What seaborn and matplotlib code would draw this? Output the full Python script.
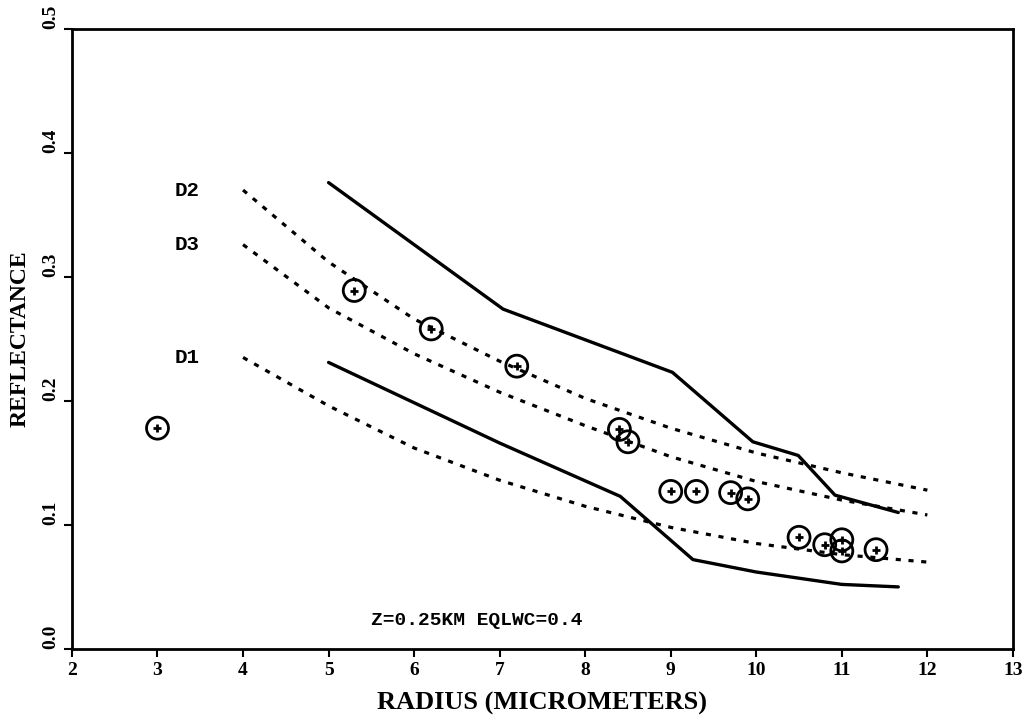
import numpy as np
import pandas as pd
import matplotlib
matplotlib.use("Agg")
import matplotlib.pyplot as plt
import seaborn as sns

# measured points (circle + plus)
pt_radius = [3.0, 5.3, 6.2, 7.2, 8.4, 8.5, 9.0, 9.3, 9.7, 9.9, 10.5, 10.8, 11.0, 11.0, 11.4]
pt_refl = [0.178, 0.289, 0.258, 0.228, 0.177, 0.167, 0.127, 0.127, 0.126, 0.121,
           0.090, 0.084, 0.088, 0.079, 0.080]

# solid envelope lines
upper_x = [5.0, 7.04, 9.02, 9.96, 10.49, 10.92, 11.66]
upper_y = [0.376, 0.274, 0.223, 0.167, 0.156, 0.124, 0.110]
lower_x = [5.0, 7.0, 8.41, 9.26, 10.0, 11.0, 11.66]
lower_y = [0.231, 0.166, 0.123, 0.072, 0.062, 0.052, 0.050]

# dotted model curves
curve_x = [4, 5, 6, 7, 8, 9, 10, 11, 12]
d2_y = [0.370, 0.312, 0.266, 0.232, 0.202, 0.178, 0.158, 0.142, 0.128]
d3_y = [0.326, 0.275, 0.238, 0.207, 0.180, 0.155, 0.135, 0.120, 0.108]
d1_y = [0.235, 0.196, 0.162, 0.136, 0.115, 0.098, 0.085, 0.076, 0.070]

sns.set_style("ticks")
plt.rcParams['font.family'] = ['Liberation Serif', 'DejaVu Serif']
plt.rcParams['font.weight'] = 'bold'
plt.rcParams['text.color'] = 'black'
plt.rcParams['axes.labelcolor'] = 'black'
plt.rcParams['xtick.color'] = 'black'
plt.rcParams['ytick.color'] = 'black'
plt.rcParams['axes.edgecolor'] = 'black'

fig = plt.figure(figsize=(10.25, 7.21), dpi=100)
ax = fig.add_axes([0.0702, 0.100, 0.918, 0.860])

for xs, ys in [(upper_x, upper_y), (lower_x, lower_y)]:
    sns.lineplot(x=xs, y=ys, ax=ax, color="black", lw=2.4, sort=False, estimator=None)

for ys in [d2_y, d3_y, d1_y]:
    sns.lineplot(x=curve_x, y=ys, ax=ax, color="black", lw=2.3, linestyle=(0, (1.6, 2.4)),
                 sort=False, estimator=None)

sns.scatterplot(x=pt_radius, y=pt_refl, ax=ax, marker="o", s=250, facecolor="none",
                edgecolor="black", linewidth=2.0, zorder=5)
sns.scatterplot(x=pt_radius, y=pt_refl, ax=ax, marker="+", s=28, color="black",
                linewidth=2.0, zorder=6)

mono = ['Liberation Mono', 'DejaVu Sans Mono']
for lab, yv in [("D2", d2_y[0]), ("D3", d3_y[0]), ("D1", d1_y[0])]:
    ax.text(3.35, yv, lab, fontsize=15, fontweight="bold", family=mono,
            ha="center", va="center")

ax.text(6.73, 0.023, "Z=0.25KM EQLWC=0.4", fontsize=14, fontweight="bold", family=mono,
        ha="center", va="center")

ax.set_xlim(2, 13)
ax.set_ylim(0, 0.5)
ax.set_xticks(range(2, 14))
ax.set_yticks([0.0, 0.1, 0.2, 0.3, 0.4, 0.5])
ax.set_yticklabels(["0.0", "0.1", "0.2", "0.3", "0.4", "0.5"], rotation=90, va="bottom")
ax.tick_params(direction="out", length=6, width=1.5, labelsize=14)
for s in ax.spines.values():
    s.set_linewidth(2.0)
    s.set_visible(True)

ax.set_xlabel("RADIUS (MICROMETERS)", fontsize=19, fontweight="bold", labelpad=9)
ax.set_ylabel("REFLECTANCE", fontsize=17, fontweight="bold", labelpad=8)

fig.savefig("out.png", dpi=100)
